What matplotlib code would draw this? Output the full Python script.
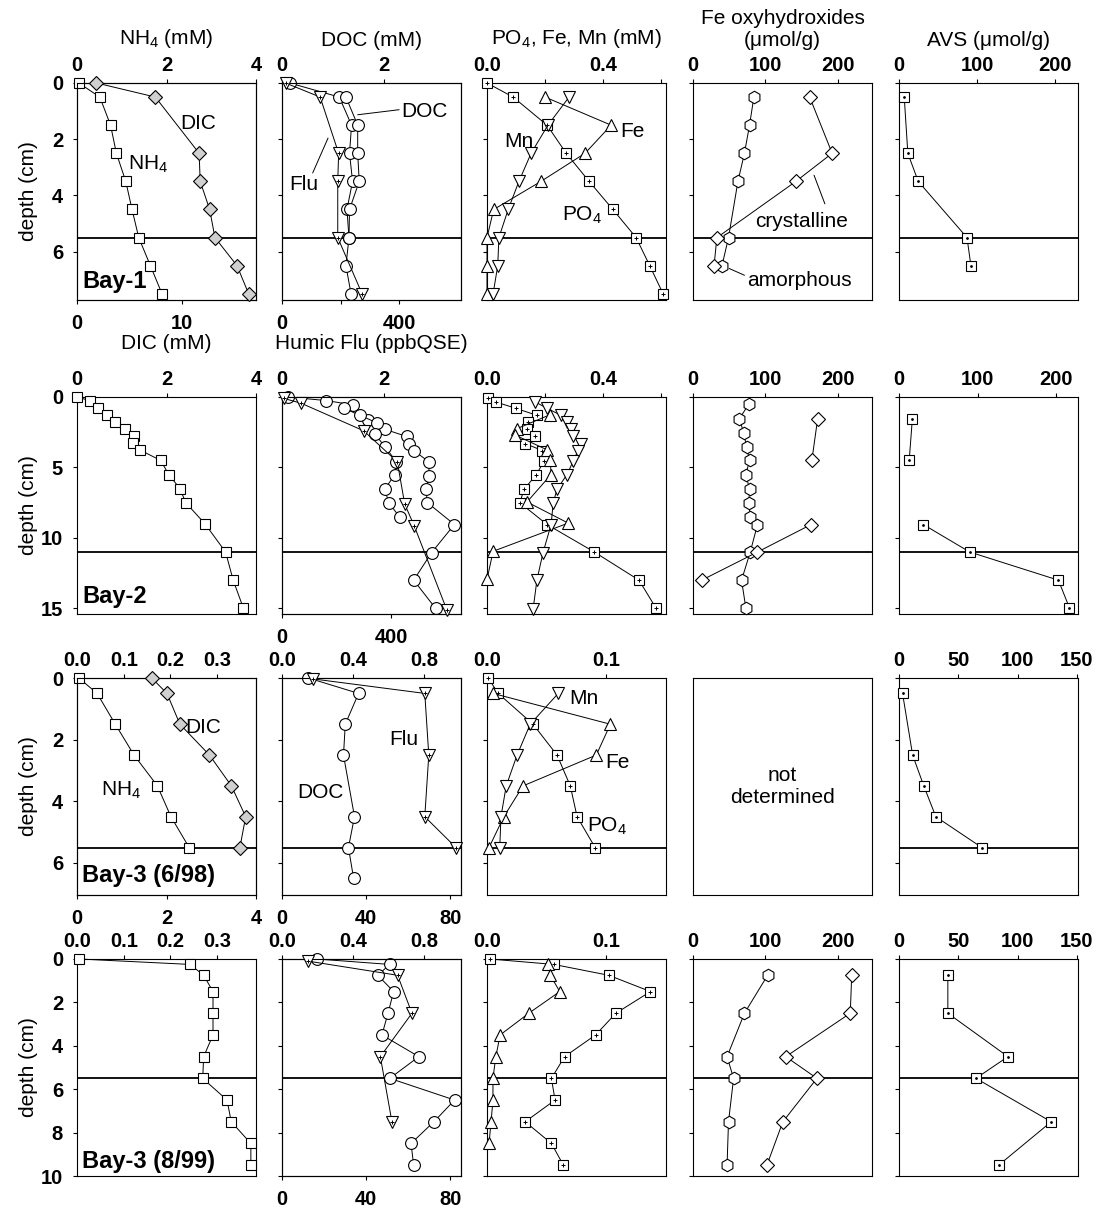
import numpy as np
import matplotlib
matplotlib.use('Agg')
import matplotlib.pyplot as plt

plt.rcParams['font.family'] = ['Liberation Sans', 'DejaVu Sans']
plt.rcParams['mathtext.fontset'] = 'custom'
plt.rcParams['mathtext.rm'] = 'Liberation Sans'
plt.rcParams['mathtext.default'] = 'regular'

nan = np.nan

# ---- Bay-1 ----
b1_nh4_depth = [0, 0.5, 1.5, 2.5, 3.5, 4.5, 5.5, 6.5, 7.5]
b1_nh4 = [0.04, 0.51, 0.75, 0.88, 1.09, 1.23, 1.38, 1.64, 1.90]
b1_dic_depth = [0, 0.5, 2.5, 3.5, 4.5, 5.5, 6.5, 7.5]
b1_dic = [1.85, 7.44, 11.6, 11.7, 12.6, 13.1, 15.2, 16.3]
b1_doc_a_depth = [0, 0.5, 1.5, 2.5, 3.5, 4.5, 5.5, 6.5, 7.5]
b1_doc_a = [0.15, 1.12, 1.36, 1.32, 1.38, 1.27, 1.31, 1.25, 1.35]
b1_doc_b_depth = [0.5, 1.5, 2.5, 3.5, 4.5, 5.5]
b1_doc_b = [1.25, 1.48, 1.48, 1.51, 1.32, 1.31]
b1_flu_depth = [0, 0.5, 2.5, 3.5, 5.5, 7.5]
b1_flu = [12, 130, 193, 190, 190, 273]
b1_po4_depth = [0, 0.5, 1.5, 2.5, 3.5, 4.5, 5.5, 6.5, 7.5]
b1_po4 = [0.0, 0.090, 0.207, 0.273, 0.352, 0.434, 0.514, 0.561, 0.607]
b1_femn_depth = [0.5, 1.5, 2.5, 3.5, 4.5, 5.5, 6.5, 7.5]
b1_fe = [0.200, 0.428, 0.338, 0.186, 0.023, 0.0, 0.0, 0.0]
b1_mn = [0.283, 0.210, 0.152, 0.110, 0.073, 0.041, 0.037, 0.021]
b1_amor_depth = [0.5, 1.5, 2.5, 3.5, 5.5, 6.5]
b1_amor = [84, 78, 71, 62, 49, 40]
b1_cryst_depth = [0.5, 2.5, 3.5, 5.5, 6.5]
b1_cryst = [161, 192, 142, 33, 29]
b1_avs_depth = [0.5, 2.5, 3.5, 5.5, 6.5]
b1_avs = [6.7, 11.3, 24.6, 87, 92]

# ---- Bay-2 ----
b2_nh4_depth = [0, 0.25, 0.75, 1.25, 1.75, 2.25, 2.75, 3.25, 3.75, 4.5, 5.5, 6.5, 7.5, 9, 11, 13, 15]
b2_nh4 = [0.0, 0.28, 0.47, 0.66, 0.86, 1.08, 1.27, 1.25, 1.40, 1.87, 2.05, 2.30, 2.43, 2.86, 3.32, 3.49, 3.72]
b2_doc_a_depth = [0, 0.25, 0.55, 1.6, 2.3, 2.8, 3.35, 3.8, 4.6, 5.6, 6.55, 7.5, 9.05, 11.05, 13.0, 15.0]
b2_doc_a = [0.12, 0.86, 1.39, 1.70, 2.03, 2.45, 2.50, 2.59, 2.89, 2.89, 2.83, 2.86, 3.39, 2.94, 2.59, 3.02]
b2_doc_b_depth = [0.8, 1.3, 1.85, 2.6, 3.55, 4.6, 5.5, 6.55, 7.5, 8.55]
b2_doc_b = [1.21, 1.54, 1.87, 1.82, 2.03, 2.25, 2.22, 2.02, 2.10, 2.32]
b2_flu_depth = [0.1, 0.45, 2.4, 4.6, 7.6, 9.15, 15.1]
b2_flu = [7, 71, 299, 422, 449, 484, 603]
b2_po4_depth = [0.05, 0.35, 0.8, 1.3, 1.8, 2.3, 2.8, 3.3, 3.8, 4.55, 5.5, 6.55, 7.5, 9.05, 11.0, 13.0, 15.0]
b2_po4 = [0.003, 0.030, 0.099, 0.172, 0.142, 0.138, 0.166, 0.132, 0.190, 0.197, 0.170, 0.128,
          0.113, 0.207, 0.370, 0.524, 0.583]
b2_fe_depth = [1.25, 2.25, 2.7, 3.75, 4.45, 5.5, 7.45, 8.95, 10.95, 12.95]
b2_fe = [0.218, 0.103, 0.097, 0.207, 0.218, 0.221, 0.138, 0.280, 0.021, 0.0]
b2_mn_depth = [0.35, 0.8, 1.3, 1.8, 2.25, 2.8, 3.3, 3.8, 4.55, 5.5, 6.55, 7.55, 9.05, 11.05, 13.0, 15.05]
b2_mn = [0.166, 0.207, 0.255, 0.276, 0.290, 0.297, 0.324, 0.314, 0.297, 0.276, 0.241, 0.228,
         0.221, 0.193, 0.172, 0.159]
b2_amor_depth = [0.5, 1.55, 2.55, 3.55, 4.5, 5.5, 6.55, 7.55, 8.5, 9.05, 11.0, 13.0, 15.0]
b2_amor = [77, 64, 70, 74, 78, 73, 78, 77, 79, 89, 79, 67, 73]
b2_cryst_depth = [1.55, 4.5, nan, 9.05, 11.0, 13.0]
b2_cryst = [172, 164, nan, 163, 89, 12]
b2_avs_depth = [1.55, 4.5, nan, 9.05, 11.0, 13.0, 14.95]
b2_avs = [17, 13, nan, 31, 90, 203, 217]

# ---- Bay-3 (6/98) ----
b3_nh4_depth = [0, 0.5, 1.5, 2.5, 3.5, 4.5, 5.5]
b3_nh4 = [0.004, 0.043, 0.082, 0.122, 0.172, 0.201, 0.240]
b3_dic_depth = [0, 0.5, 1.5, 2.5, 3.5, 4.5, 5.5]
b3_dic = [1.67, 2.01, 2.30, 2.96, 3.45, 3.77, 3.64]
b3_doc_depth = [0, 0.5, 1.5, 2.5, 4.5, 5.5, 6.5]
b3_doc = [0.149, 0.432, 0.357, 0.347, 0.409, 0.375, 0.404]
b3_flu_depth = [0.03, 0.5, 2.5, 4.5, 5.5]
b3_flu = [14.8, 67.8, 69.7, 67.8, 82.6]
b3_po4_depth = [0, 0.5, 1.5, 2.5, 3.5, 4.5, 5.5]
b3_po4 = [0.001, 0.0094, 0.0386, 0.0587, 0.0698, 0.0755, 0.0906]
b3_femn_depth = [0.5, 1.5, 2.5, 3.5, 4.5, 5.5]
b3_fe = [0.005, 0.1034, 0.0916, 0.0302, 0.0141, 0.0017]
b3_mn = [0.0597, 0.0362, 0.0252, 0.0161, 0.0117, 0.0107]
b3_avs_depth = [0.5, 2.5, 3.5, 4.5, 5.5]
b3_avs = [3.0, 11.5, 20.9, 31.1, 69.9]

# ---- Bay-3 (8/99) ----
b4_depth = [0, 0.25, 0.75, 1.5, 2.5, 3.5, 4.5, 5.5, 6.5, 7.5, 8.5, 9.5]
b4_nh4 = [0.005, 0.242, 0.271, 0.291, 0.291, 0.291, 0.271, 0.269, 0.321, 0.330, 0.372, 0.372]
b4_doc = [0.196, 0.608, 0.540, 0.630, 0.598, 0.564, 0.772, 0.608, 0.974, 0.857, 0.728, 0.743]
b4_po4 = [0.0023, 0.056, 0.102, 0.137, 0.108, 0.091, 0.065, 0.054, 0.057, 0.032, 0.054, 0.064]
b4_flu_depth = [0.1, 0.75, 2.5, 4.5, 7.5]
b4_flu = [12.5, 54.9, 61.7, 46.7, 52.2]
b4_fe_depth = [0.25, 0.75, 1.5, 2.5, 3.5, 4.5, 5.5, 6.5, 7.5, 8.5]
b4_fe = [0.051, 0.053, 0.061, 0.035, 0.011, 0.0074, 0.005, 0.005, 0.0034, 0.0017]
b4_solid_depth = [0.75, 2.5, 4.5, 5.5, 7.5, 9.5]
b4_amor = [103, 71, 47, 56, 49, 47]
b4_cryst = [219, 217, 128, 171, 124, 102]
b4_avs = [41.2, 41.2, 91.9, 64.9, 128.4, 84.1]

# ---- layout (pixels) ----
W, H = 1096, 1215
col_left = [77, 282, 487, 693, 899]
row_top = [83, 397, 678, 959]
BW, BH = 179, 217
row_ymax = [7.72, 15.4, 7.04, 10.0]
row_yticks = [[0, 2, 4, 6], [0, 5, 10, 15], [0, 2, 4, 6], [0, 2, 4, 6, 8, 10]]
row_sed = [5.5, 11.0, 5.5, 5.5]
bay_names = ['Bay-1', 'Bay-2', 'Bay-3 (6/98)', 'Bay-3 (8/99)']
bay_y = [7.07, 14.15, 6.41, 9.33]

TICK_FS = 14.5
LAB_FS = 15

fig = plt.figure(figsize=(W / 100, H / 100), dpi=100)
first_col = []


def setup(r, c, xlim, xticks, xlabels, bottom=None, blank=False):
    ax = fig.add_axes([col_left[c] / W, 1 - (row_top[r] + BH) / H, BW / W, BH / H])
    ax.set_ylim(row_ymax[r], 0)
    for s in ax.spines.values():
        s.set_linewidth(0.8)
    if c == 0:
        first_col.append(ax)
    if blank:
        ax.set_xticks([])
        ax.set_yticks([])
        return ax, None
    tw = None
    if bottom is not None:
        blim, bticks, blabels = bottom
        tw = ax.twiny()
        tw.set_xlim(blim)
        tw.xaxis.tick_bottom()
        tw.set_xticks(bticks)
        tw.set_xticklabels(blabels, fontsize=TICK_FS, fontweight='bold')
        tw.tick_params(axis='x', direction='out', length=3, width=0.8, pad=7)
        for s in tw.spines.values():
            s.set_linewidth(0.8)
    ax.xaxis.tick_top()
    ax.set_xlim(xlim)
    ax.set_xticks(xticks)
    ax.set_xticklabels(xlabels, fontsize=TICK_FS, fontweight='bold')
    ax.tick_params(axis='x', direction='out', length=3, width=0.8, pad=2.5)
    ax.set_yticks(row_yticks[r])
    if c == 0:
        ax.set_yticklabels([str(v) for v in row_yticks[r]], fontsize=TICK_FS, fontweight='bold')
    else:
        ax.set_yticklabels([])
    ax.tick_params(axis='y', direction='out', length=3, width=0.8, pad=7)
    ax.axhline(row_sed[r], color='black', lw=1.3, zorder=1)
    return ax, tw


def profile(ax, x, y, marker, ms=7.5, mfc='white', inner=None, inner_ms=3):
    ax.plot(x, y, color='black', lw=0.7, marker=marker, ms=ms, mfc=mfc, mec='black',
            mew=0.8, clip_on=False, zorder=3)
    if inner is not None:
        ax.plot(x, y, ls='none', marker=inner, ms=inner_ms, mew=0.7, color='black',
                clip_on=False, zorder=4)


def note(ax, x, y, s, **kw):
    ax.text(x, y, s, ha='center', va='center', fontsize=LAB_FS, **kw)


def leader(ax, p0, p1):
    ax.annotate('', xy=p1, xytext=p0,
                arrowprops=dict(arrowstyle='-', lw=0.7, color='black', shrinkA=0, shrinkB=0))


GREY = '#d0d0d0'

# ================= Row 1: Bay-1 =================
ax, tw = setup(0, 0, (0, 4), [0, 2, 4], ['0', '2', '4'], bottom=((0, 17), [0, 10], ['0', '10']))
profile(ax, b1_nh4, b1_nh4_depth, 's')
profile(tw, b1_dic, b1_dic_depth, 'D', ms=7, mfc=GREY)
note(ax, 2.70, 1.43, 'DIC')
note(ax, 1.58, 2.9, 'NH$_4$')

ax, tw = setup(0, 1, (0, 3.5), [0, 2], ['0', '2'], bottom=((0, 610), [0, 200, 400], ['0', '', '400']))
profile(ax, b1_doc_a, b1_doc_a_depth, 'o', ms=8.5)
profile(ax, b1_doc_b, b1_doc_b_depth, 'o', ms=8.5)
profile(tw, b1_flu, b1_flu_depth, 'v', ms=8, inner='+')
note(ax, 2.78, 1.0, 'DOC')
leader(ax, (2.29, 0.95), (1.48, 1.13))
note(ax, 0.42, 3.6, 'Flu')
leader(ax, (0.60, 3.2), (0.90, 1.96))

ax, tw = setup(0, 2, (0, 0.617), [0, 0.2, 0.4, 0.6], ['0.0', '', '0.4', ''])
profile(ax, b1_po4, b1_po4_depth, 's', inner='+')
profile(ax, b1_fe, b1_femn_depth, '^', ms=8.5)
profile(ax, b1_mn, b1_femn_depth, 'v', ms=8.5)
note(ax, 0.11, 2.09, 'Mn')
note(ax, 0.503, 1.73, 'Fe')
note(ax, 0.328, 4.71, 'PO$_4$')

ax, tw = setup(0, 3, (0, 247), [0, 100, 200], ['0', '100', '200'])
profile(ax, b1_amor, b1_amor_depth, 'h', ms=9)
profile(ax, b1_cryst, b1_cryst_depth, 'D', ms=7.5)
note(ax, 150, 4.93, 'crystalline')
leader(ax, (182, 4.30), (167, 3.28))
note(ax, 147, 7.04, 'amorphous')
leader(ax, (71, 6.84), (50, 6.6))

ax, tw = setup(0, 4, (0, 229), [0, 100, 200], ['0', '100', '200'])
profile(ax, b1_avs, b1_avs_depth, 's', inner='.', inner_ms=2.5)

# ================= Row 2: Bay-2 =================
ax, tw = setup(1, 0, (0, 4), [0, 2, 4], ['0', '2', '4'])
profile(ax, b2_nh4, b2_nh4_depth, 's')

ax, tw = setup(1, 1, (0, 3.52), [0, 2], ['0', '2'], bottom=((0, 655), [0, 400], ['0', '400']))
profile(ax, b2_doc_a, b2_doc_a_depth, 'o', ms=8.5)
profile(ax, b2_doc_b, b2_doc_b_depth, 'o', ms=8.5)
profile(tw, b2_flu, b2_flu_depth, 'v', ms=8, inner='+')

ax, tw = setup(1, 2, (0, 0.617), [0, 0.2, 0.4, 0.6], ['0.0', '', '0.4', ''])
profile(ax, b2_po4, b2_po4_depth, 's', inner='+')
profile(ax, b2_fe, b2_fe_depth, '^', ms=8.5)
profile(ax, b2_mn, b2_mn_depth, 'v', ms=8.5)

ax, tw = setup(1, 3, (0, 247), [0, 100, 200], ['0', '100', '200'])
profile(ax, b2_amor, b2_amor_depth, 'h', ms=9)
profile(ax, b2_cryst, b2_cryst_depth, 'D', ms=7.5)

ax, tw = setup(1, 4, (0, 228), [0, 100, 200], ['0', '100', '200'])
profile(ax, b2_avs, b2_avs_depth, 's', inner='.', inner_ms=2.5)

# ================= Row 3: Bay-3 (6/98) =================
ax, tw = setup(2, 0, (0, 0.383), [0, 0.1, 0.2, 0.3], ['0.0', '0.1', '0.2', '0.3'],
               bottom=((0, 4), [0, 2, 4], ['0', '2', '4']))
profile(ax, b3_nh4, b3_nh4_depth, 's')
profile(tw, b3_dic, b3_dic_depth, 'D', ms=7, mfc=GREY)
note(ax, 0.271, 1.62, 'DIC')
note(ax, 0.095, 3.66, 'NH$_4$')

ax, tw = setup(2, 1, (0, 1.01), [0, 0.4, 0.8], ['0.0', '0.4', '0.8'],
               bottom=((0, 85), [0, 40, 80], ['0', '40', '80']))
profile(ax, b3_doc, b3_doc_depth, 'o', ms=8.5)
profile(tw, b3_flu, b3_flu_depth, 'v', ms=8, inner='+')
note(ax, 0.687, 1.99, 'Flu')
note(ax, 0.215, 3.72, 'DOC')

ax, tw = setup(2, 2, (0, 0.150), [0, 0.1], ['0.0', '0.1'])
profile(ax, b3_po4, b3_po4_depth, 's', inner='+')
profile(ax, b3_fe, b3_femn_depth, '^', ms=8.5)
profile(ax, b3_mn, b3_femn_depth, 'v', ms=8.5)
note(ax, 0.081, 0.68, 'Mn')
note(ax, 0.109, 2.73, 'Fe')
note(ax, 0.101, 4.81, 'PO$_4$')

ax, tw = setup(2, 3, None, None, None, blank=True)
ax.text(0.5, 0.5, 'not\ndetermined', transform=ax.transAxes, ha='center', va='center',
        fontsize=LAB_FS, linespacing=1.15)

ax, tw = setup(2, 4, (0, 151), [0, 50, 100, 150], ['0', '50', '100', '150'])
profile(ax, b3_avs, b3_avs_depth, 's', inner='.', inner_ms=2.5)

# ================= Row 4: Bay-3 (8/99) =================
ax, tw = setup(3, 0, (0, 0.383), [0, 0.1, 0.2, 0.3], ['0.0', '0.1', '0.2', '0.3'])
profile(ax, b4_nh4, b4_depth, 's')

ax, tw = setup(3, 1, (0, 1.01), [0, 0.4, 0.8], ['0.0', '0.4', '0.8'],
               bottom=((0, 85), [0, 40, 80], ['0', '40', '80']))
profile(ax, b4_doc, b4_depth, 'o', ms=8.5)
profile(tw, b4_flu, b4_flu_depth, 'v', ms=8, inner='+')

ax, tw = setup(3, 2, (0, 0.150), [0, 0.1], ['0.0', '0.1'])
profile(ax, b4_po4, b4_depth, 's', inner='+')
profile(ax, b4_fe, b4_fe_depth, '^', ms=8.5)

ax, tw = setup(3, 3, (0, 247), [0, 100, 200], ['0', '100', '200'])
profile(ax, b4_amor, b4_solid_depth, 'h', ms=9)
profile(ax, b4_cryst, b4_solid_depth, 'D', ms=7.5)

ax, tw = setup(3, 4, (0, 151), [0, 50, 100, 150], ['0', '50', '100', '150'])
profile(ax, b4_avs, b4_solid_depth, 's', inner='.', inner_ms=2.5)

# ---- Bay labels and depth labels ----
for r, name in enumerate(bay_names):
    ax0 = first_col[r]
    ax0.text(0.03, bay_y[r], name, transform=ax0.get_yaxis_transform(), ha='left', va='center',
             fontsize=17, fontweight='bold', zorder=6)
    fig.text(28 / W, 1 - (row_top[r] + BH / 2) / H, 'depth (cm)', rotation=90,
             ha='center', va='center', fontsize=LAB_FS)

# ---- column titles ----
titles = ['NH$_4$ (mM)', 'DOC (mM)', 'PO$_4$, Fe, Mn (mM)', 'Fe oxyhydroxides\n(μmol/g)', 'AVS (μmol/g)']
for c, t in enumerate(titles):
    fig.text((col_left[c] + BW / 2) / W, 1 - 50 / H, t, ha='center', va='bottom',
             fontsize=LAB_FS, linespacing=1.2)
fig.text((col_left[0] + BW / 2) / W, 1 - 334 / H, 'DIC (mM)', ha='center', va='top', fontsize=LAB_FS)
fig.text((col_left[1] + BW / 2) / W, 1 - 334 / H, 'Humic Flu (ppbQSE)', ha='center', va='top',
         fontsize=LAB_FS)

fig.savefig('out.png', dpi=100, facecolor='white')
